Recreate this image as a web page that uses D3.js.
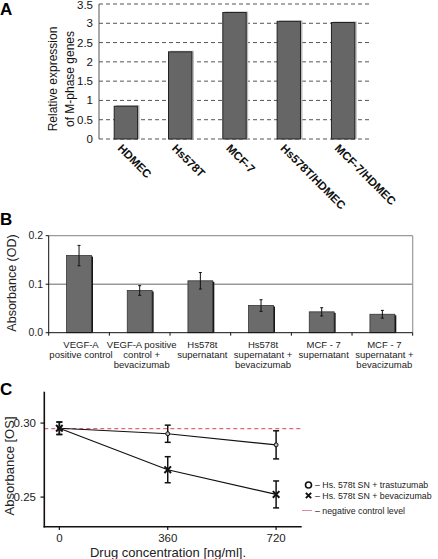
<!DOCTYPE html>
<html><head><meta charset="utf-8">
<script src="https://cdn.jsdelivr.net/npm/d3@7"></script>
<style>body{margin:0;background:#fff}svg{display:block;font-family:"Liberation Sans",Arial,sans-serif}</style>
</head><body>
<svg id="c" width="438" height="559"></svg>
<script>
// Panel A
const catsA = ["HDMEC","Hs578T","MCF-7","Hs578T/HDMEC","MCF-7/HDMEC"];
const valsA = [0.85, 2.26, 3.28, 3.05, 3.02];
const ticksA = [0,0.5,1,1.5,2,2.5,3,3.5];
// Panel B
const catsB = [["VEGF-A","positive control"],["VEGF-A positive","control +","bevacizumab"],["Hs578t","supernatant"],["Hs578t","supernatant  +","bevacizumab"],["MCF - 7","supernatant"],["MCF - 7","supernatant +","bevacizumab"]];
const valsB = [0.159, 0.087, 0.107, 0.056, 0.043, 0.038];
const errB = [0.021, 0.010, 0.017, 0.012, 0.0085, 0.008];
const ticksB = [0, 0.1, 0.2];
// Panel C
const dosesC = [0, 360, 720];
const trastuzumab = [0.2965, 0.2928, 0.2853];
const trastuzumabErr = [0.0042, 0.0058, 0.0095];
const bevacizumab = [0.2965, 0.2685, 0.2518];
const bevacizumabErr = [0.0042, 0.0088, 0.0091];
const negControl = 0.2962;
const ticksC = [0.25, 0.30];

const svg = d3.select("#c");

// ---------- A ----------
{
  const g = svg.append("g");
  const x = d3.scaleBand().domain(catsA).range([99, 370]).paddingInner(0.57).paddingOuter(0.28);
  const y = d3.scaleLinear().domain([0, 3.5]).range([139, 4]);
  g.selectAll("line.grid").data(ticksA).join("line")
    .attr("x1", 99).attr("x2", 370).attr("y1", d => y(d)).attr("y2", d => y(d))
    .attr("stroke", "#555").attr("stroke-dasharray", "4,3").attr("stroke-width", 1);
  g.selectAll("text.t").data(ticksA).join("text")
    .attr("x", 93).attr("y", d => Math.max(y(d), 5)).attr("dy", "0.35em").attr("text-anchor", "end")
    .attr("font-size", 11.5).attr("fill", "#111").text(d => d);
  g.selectAll("rect.sh").data(valsA).join("rect")
    .attr("x", (d,i) => x(catsA[i]) + 2).attr("y", d => y(d) - 1)
    .attr("width", x.bandwidth()).attr("height", d => y(0) - y(d) + 1)
    .attr("fill", "#bbb");
  g.selectAll("rect.b").data(valsA).join("rect")
    .attr("x", (d,i) => x(catsA[i])).attr("y", d => y(d))
    .attr("width", x.bandwidth()).attr("height", d => y(0) - y(d))
    .attr("fill", "#666").attr("stroke", "#222").attr("stroke-width", 1);
  g.append("line").attr("x1", 99).attr("x2", 99).attr("y1", y(3.5)).attr("y2", y(0)).attr("stroke", "#555");
  g.selectAll("text.c").data(catsA).join("text")
    .attr("transform", d => `translate(${x(d) + x.bandwidth()/2 - 9},${y(0) + 10}) rotate(45)`)
    .attr("font-size", 11.5).attr("font-weight", "bold").attr("fill", "#111").text(d => d);
  const yl = g.append("text").attr("transform", "translate(0,79) rotate(-90)")
    .attr("text-anchor", "middle").attr("font-size", 12).attr("fill", "#111");
  yl.append("tspan").attr("x", 0).attr("y", 57).text("Relative expression");
  yl.append("tspan").attr("x", 0).attr("y", 74).text("of M-phase genes");
  g.append("text").attr("x", 0).attr("y", 15).attr("font-size", 17).attr("font-weight", "bold").text("A");
}

// ---------- B ----------
{
  const g = svg.append("g");
  const x = d3.scaleBand().domain(d3.range(catsB.length)).range([48.7, 412.7]).paddingInner(0.59).paddingOuter(0.295);
  const y = d3.scaleLinear().domain([0, 0.2]).range([332.7, 235.7]);
  g.append("line").attr("x1", 48.7).attr("x2", 412.7).attr("y1", y(0.2)).attr("y2", y(0.2)).attr("stroke", "#999").attr("stroke-width", 1.2);
  g.append("line").attr("x1", 48.7).attr("x2", 412.7).attr("y1", y(0.1)).attr("y2", y(0.1)).attr("stroke", "#999").attr("stroke-width", 1.5);
  g.append("line").attr("x1", 412.7).attr("x2", 412.7).attr("y1", y(0.2)).attr("y2", y(0)).attr("stroke", "#999").attr("stroke-width", 1.2);
  g.selectAll("rect.sh").data(valsB).join("rect")
    .attr("x", (d,i) => x(i) + 1.5).attr("y", d => y(d) + 1)
    .attr("width", x.bandwidth()).attr("height", d => y(0) - y(d) - 1)
    .attr("fill", "#111");
  g.selectAll("rect.b").data(valsB).join("rect")
    .attr("x", (d,i) => x(i)).attr("y", d => y(d))
    .attr("width", x.bandwidth()).attr("height", d => y(0) - y(d))
    .attr("fill", "#6b6b6b").attr("stroke", "#333").attr("stroke-width", 0.8);
  const eb = g.selectAll("g.e").data(valsB).join("g").attr("stroke", "#111").attr("stroke-width", 1);
  eb.append("line").attr("x1", (d,i) => x(i) + x.bandwidth()/2).attr("x2", (d,i) => x(i) + x.bandwidth()/2)
    .attr("y1", (d,i) => y(d + errB[i])).attr("y2", (d,i) => y(d - errB[i]));
  eb.append("line").attr("x1", (d,i) => x(i) + x.bandwidth()/2 - 1.5).attr("x2", (d,i) => x(i) + x.bandwidth()/2 + 1.5)
    .attr("y1", (d,i) => y(d + errB[i])).attr("y2", (d,i) => y(d + errB[i]));
  eb.append("line").attr("x1", (d,i) => x(i) + x.bandwidth()/2 - 1.5).attr("x2", (d,i) => x(i) + x.bandwidth()/2 + 1.5)
    .attr("y1", (d,i) => y(d - errB[i])).attr("y2", (d,i) => y(d - errB[i]));
  g.append("line").attr("x1", 48.7).attr("x2", 48.7).attr("y1", y(0.2)).attr("y2", y(0)).attr("stroke", "#111");
  g.append("line").attr("x1", 48.7).attr("x2", 412.7).attr("y1", y(0)).attr("y2", y(0)).attr("stroke", "#111");
  g.selectAll("line.yt").data(ticksB).join("line")
    .attr("x1", 45.7).attr("x2", 48.7).attr("y1", d => y(d)).attr("y2", d => y(d)).attr("stroke", "#111");
  const step = x.step();
  g.selectAll("line.xt").data(d3.range(catsB.length + 1)).join("line")
    .attr("x1", d => 48.7 + d * step).attr("x2", d => 48.7 + d * step)
    .attr("y1", y(0)).attr("y2", y(0) + 3).attr("stroke", "#111");
  g.selectAll("text.t").data(ticksB).join("text")
    .attr("x", 43).attr("y", d => y(d)).attr("dy", "0.35em").attr("text-anchor", "end")
    .attr("font-size", 10.5).attr("fill", "#222").text(d => d.toFixed(1));
  const lab = g.selectAll("text.c").data(catsB).join("text")
    .attr("text-anchor", "middle").attr("font-size", 9.5).attr("fill", "#222");
  lab.each(function(d, i) {
    const t = d3.select(this);
    d.forEach((s, k) => t.append("tspan").attr("x", x(i) + x.bandwidth()/2 + 2).attr("y", 348 + k * 10.2).text(s));
  });
  g.append("text").attr("transform", "translate(16,283) rotate(-90)").attr("text-anchor", "middle")
    .attr("font-size", 12.5).attr("fill", "#222").text("Absorbance (OD)");
  g.append("text").attr("x", 0).attr("y", 225).attr("font-size", 17).attr("font-weight", "bold").text("B");
}

// ---------- C ----------
{
  const g = svg.append("g");
  const x = d3.scaleLinear().domain([-50, 805]).range([44.3, 301.7]);
  const y = d3.scaleLinear().domain([0.23, 0.3212]).range([526.7, 391.7]);
  g.append("line").attr("x1", x(-50)).attr("x2", x(805)).attr("y1", y(negControl)).attr("y2", y(negControl))
    .attr("stroke", "#d6405e").attr("stroke-width", 1).attr("stroke-dasharray", "4,3");
  const line = d3.line().x((d,i) => x(dosesC[i])).y(d => y(d));
  [[trastuzumab, trastuzumabErr], [bevacizumab, bevacizumabErr]].forEach(([vals, errs]) => {
    g.append("path").datum(vals).attr("d", line).attr("fill", "none").attr("stroke", "#111").attr("stroke-width", 1.2);
    vals.forEach((v, i) => {
      const cx = x(dosesC[i]);
      g.append("line").attr("x1", cx).attr("x2", cx).attr("y1", y(v + errs[i])).attr("y2", y(v - errs[i])).attr("stroke", "#111").attr("stroke-width", 1.5);
      [v + errs[i], v - errs[i]].forEach(e => g.append("line").attr("x1", cx - 3).attr("x2", cx + 3).attr("y1", y(e)).attr("y2", y(e)).attr("stroke", "#111").attr("stroke-width", 1.5));
    });
  });
  trastuzumab.forEach((v, i) => {
    g.append("circle").attr("cx", x(dosesC[i])).attr("cy", y(v)).attr("r", 2).attr("fill", "#bbb").attr("stroke", "#111").attr("stroke-width", 1);
  });
  bevacizumab.forEach((v, i) => {
    g.append("path").attr("d", d3.symbol(d3.symbolX, 30)()).attr("transform", `translate(${x(dosesC[i])},${y(v)})`)
      .attr("stroke", "#111").attr("stroke-width", 2).attr("fill", "none");
  });
  g.append("line").attr("x1", 44.3).attr("x2", 44.3).attr("y1", 391.7).attr("y2", 527.5).attr("stroke", "#111").attr("stroke-width", 1.6);
  g.append("line").attr("x1", 43.5).attr("x2", 301.7).attr("y1", 526.7).attr("y2", 526.7).attr("stroke", "#111").attr("stroke-width", 1.6);
  g.selectAll("line.yt").data(ticksC).join("line")
    .attr("x1", 40.5).attr("x2", 44.3).attr("y1", d => y(d)).attr("y2", d => y(d)).attr("stroke", "#111").attr("stroke-width", 1.2);
  g.selectAll("line.xt").data(dosesC).join("line")
    .attr("x1", d => x(d)).attr("x2", d => x(d)).attr("y1", 526.7).attr("y2", 530).attr("stroke", "#111").attr("stroke-width", 1.2);
  g.selectAll("text.yl").data(ticksC).join("text")
    .attr("x", 36).attr("y", d => y(d)).attr("dy", "0.35em").attr("text-anchor", "end")
    .attr("font-size", 11.5).attr("fill", "#222").text(d => d.toFixed(2));
  g.selectAll("text.xl").data(dosesC).join("text")
    .attr("x", d => x(d)).attr("y", 542).attr("text-anchor", "middle")
    .attr("font-size", 11.5).attr("fill", "#222").text(d => d);
  g.append("text").attr("x", 168).attr("y", 557).attr("text-anchor", "middle").attr("font-size", 13).attr("fill", "#222").text("Drug concentration [ng/ml].");
  g.append("text").attr("transform", "translate(14,466) rotate(-90)").attr("text-anchor", "middle")
    .attr("font-size", 13).attr("fill", "#222").text("Absorbance [OS]");
  g.append("text").attr("x", 0).attr("y", 395).attr("font-size", 17).attr("font-weight", "bold").text("C");
  const lg = g.append("g").attr("font-size", 8.8).attr("fill", "#222");
  lg.append("circle").attr("cx", 308.5).attr("cy", 485).attr("r", 3).attr("fill", "none").attr("stroke", "#111").attr("stroke-width", 1.6);
  lg.append("text").attr("x", 315).attr("y", 485).attr("dy", "0.35em").text("– Hs. 578t SN + trastuzumab");
  lg.append("path").attr("d", d3.symbol(d3.symbolX, 20)()).attr("transform", "translate(308.5,495.5)").attr("stroke", "#111").attr("stroke-width", 2);
  lg.append("text").attr("x", 315).attr("y", 495.5).attr("dy", "0.35em").text("– Hs. 578t SN + bevacizumab");
  lg.append("line").attr("x1", 302).attr("x2", 312).attr("y1", 510.5).attr("y2", 510.5).attr("stroke", "#e08aa0").attr("stroke-width", 1);
  lg.append("text").attr("x", 315).attr("y", 510.5).attr("dy", "0.35em").text("– negative control level");
}
</script>
</body></html>
